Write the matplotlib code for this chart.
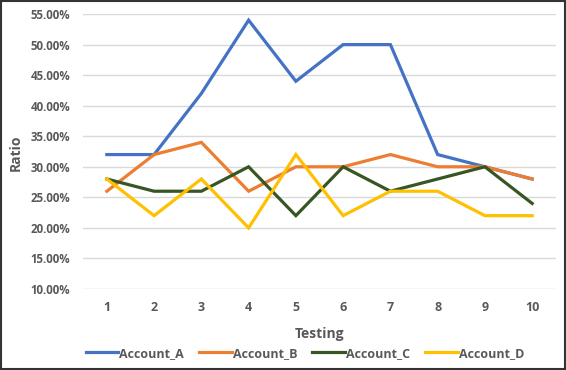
import matplotlib
matplotlib.use("Agg")
import matplotlib.pyplot as plt
from matplotlib.ticker import PercentFormatter
from matplotlib.patches import Rectangle

testing = [1, 2, 3, 4, 5, 6, 7, 8, 9, 10]
account_a = [32, 32, 42, 54, 44, 50, 50, 32, 30, 28]
account_b = [26, 32, 34, 26, 30, 30, 32, 30, 30, 28]
account_c = [28, 26, 26, 30, 22, 30, 26, 28, 30, 24]
account_d = [28, 22, 28, 20, 32, 22, 26, 26, 22, 22]
series_names = ["Account_A", "Account_B", "Account_C", "Account_D"]
colors = ["#4472C4", "#ED7D31", "#375623", "#FFC000"]

plt.rcParams['font.family'] = ['Open Sans', 'DejaVu Sans']
txt = "#595959"

fig = plt.figure(figsize=(5.66, 3.70), dpi=100)
ax = fig.add_axes([0.147, 0.219, 0.835, 0.743])

for vals, name, c in zip([account_a, account_b, account_c, account_d], series_names, colors):
    ax.plot(testing, [v / 100 for v in vals], color=c, lw=2.3, label=name, solid_joinstyle='miter')

ax.set_xlim(0.5, 10.5)
ax.set_ylim(0.10, 0.55)
ax.set_yticks([0.10 + 0.05 * i for i in range(10)])
ax.yaxis.set_major_formatter(PercentFormatter(1.0, decimals=2))
ax.set_xticks(testing)
ax.grid(axis='y', color='#D9D9D9', lw=1)
ax.set_axisbelow(True)
for s in ax.spines.values():
    s.set_visible(False)
ax.tick_params(length=0, labelcolor=txt)
ax.tick_params(axis='y', pad=9.5, labelsize=8.3)
ax.tick_params(axis='x', pad=9, labelsize=9)
for lab in ax.get_xticklabels() + ax.get_yticklabels():
    lab.set_fontweight('bold')

ax.set_xlabel("Testing", fontsize=10, fontweight='bold', color=txt, labelpad=9)
fig.text(0.027, 0.586, "Ratio", rotation=90, fontsize=10, fontweight='bold', color=txt, va='center', ha='center')

leg = fig.legend(loc='center', bbox_to_anchor=(0.539, 0.045), ncol=4, frameon=False,
                 handlelength=2.6, columnspacing=1.2, handletextpad=0.1,
                 prop={'weight': 'bold', 'size': 9})
for t in leg.get_texts():
    t.set_color(txt)

fig.patches.append(Rectangle((0.001, 0.002), 0.997, 0.995, transform=fig.transFigure,
                             fill=False, edgecolor='#333333', lw=1.5))

fig.savefig("out.png", dpi=100)
